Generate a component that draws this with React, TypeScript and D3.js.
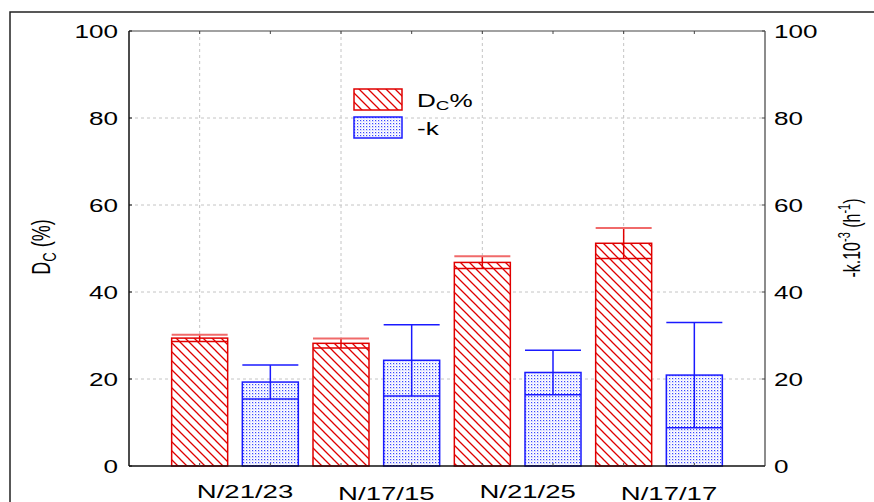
import React from "react";
import * as d3 from "d3";

// Four samples, each with a D_C % bar (red, hatched) and a -k bar (blue, dotted)
const samples = ["N/21/23", "N/17/15", "N/21/25", "N/17/17"];
const dcValues = [29.4, 28.2, 46.8, 51.2];
const dcErrors = [0.8, 1.1, 1.4, 3.5];
const kValues = [19.3, 24.3, 21.5, 20.9];
const kErrors = [3.9, 8.2, 5.1, 12.1];
const yTicks = [0, 20, 40, 60, 80, 100];

const W = 874;
const H = 502;
const plot = { left: 129, right: 765, top: 31, bottom: 466 };
const STRETCH = 1.45;
const FONT = "'Liberation Sans', Arial, Helvetica, sans-serif";
const RED = "#e00000";
const RED_LIGHT = "#f06a6a";
const BLUE = "#1a1aff";
const BAR_W = 56;

type Bar = { key: string; value: number; err: number; kind: "dc" | "k" };

const bars: Bar[] = samples.flatMap((s, i) => [
  { key: s + "-dc", value: dcValues[i], err: dcErrors[i], kind: "dc" as const },
  { key: s + "-k", value: kValues[i], err: kErrors[i], kind: "k" as const },
]);

const x = d3
  .scalePoint<string>()
  .domain(bars.map((b) => b.key))
  .range([plot.left, plot.right])
  .padding(1);

const y = d3.scaleLinear().domain([0, 100]).range([plot.bottom, plot.top]);

function SText(props: {
  x: number;
  y: number;
  size: number;
  anchor?: "start" | "middle" | "end";
  rotate?: boolean;
  children: React.ReactNode;
}) {
  const { x: tx, y: ty, size, anchor = "start", rotate, children } = props;
  const t = `translate(${tx},${ty}) scale(${STRETCH},1)${rotate ? " rotate(-90)" : ""}`;
  return (
    <text
      transform={t}
      fontFamily={FONT}
      fontSize={size}
      textAnchor={anchor}
      fill="#000"
    >
      {children}
    </text>
  );
}

export default function App() {
  const gridX = bars.filter((b) => b.kind === "dc").map((b) => x(b.key)!);
  const gridY = yTicks.filter((t) => t > 0 && t < 100);

  return (
    <svg
      width={W}
      height={H}
      viewBox={`0 0 ${W} ${H}`}
      style={{ position: "absolute", left: 0, top: 0, background: "#fff" }}
    >
      <defs>
        <pattern id="hatch" patternUnits="userSpaceOnUse" width={9} height={9}>
          <rect width={9} height={9} fill="#fff" />
          <path
            d="M-1,-1 L10,10 M-1,8 L1,10 M8,-1 L10,1"
            stroke={RED}
            strokeWidth={1.3}
          />
        </pattern>
        <pattern id="dots" patternUnits="userSpaceOnUse" width={3} height={3}>
          <rect width={3} height={3} fill="#fff" />
          <rect width={1.2} height={1.2} fill="#3a46ff" />
          <rect x={1.5} y={1.5} width={0.8} height={0.8} fill="#8c94ff" />
        </pattern>
      </defs>

      {/* outer frame */}
      <rect x={10} y={12} width={900} height={600} fill="none" stroke="#222" strokeWidth={1.5} />

      {/* grid */}
      {gridY.map((t) => (
        <line
          key={"gy" + t}
          x1={plot.left}
          x2={plot.right}
          y1={y(t)}
          y2={y(t)}
          stroke="#c4c4c4"
          strokeDasharray="3,3"
        />
      ))}
      {gridX.map((gx, i) => (
        <line
          key={"gx" + i}
          x1={gx}
          x2={gx}
          y1={plot.top}
          y2={plot.bottom}
          stroke="#c4c4c4"
          strokeDasharray="3,3"
        />
      ))}

      {/* bars */}
      {bars.map((b) => {
        const cx = x(b.key)!;
        const x0 = cx - BAR_W / 2;
        const isDc = b.kind === "dc";
        const stroke = isDc ? RED : BLUE;
        const top = y(b.value);
        const hi = y(b.value + b.err);
        const lo = y(b.value - b.err);
        return (
          <g key={b.key}>
            <rect
              x={x0}
              y={top}
              width={BAR_W}
              height={y(0) - top}
              fill={isDc ? "url(#hatch)" : "url(#dots)"}
              stroke={stroke}
              strokeWidth={1.5}
            />
            <line x1={x0} x2={x0 + BAR_W} y1={lo} y2={lo} stroke={stroke} strokeWidth={1.5} />
            <line x1={cx} x2={cx} y1={lo} y2={hi} stroke={stroke} strokeWidth={1.5} />
            <line
              x1={x0}
              x2={x0 + BAR_W}
              y1={hi}
              y2={hi}
              stroke={isDc ? RED_LIGHT : BLUE}
              strokeWidth={isDc ? 2 : 1.5}
            />
          </g>
        );
      })}

      {/* plot frame */}
      <line x1={plot.left} x2={plot.right} y1={plot.top} y2={plot.top} stroke="#444" strokeWidth={1.2} />
      <line x1={plot.right} x2={plot.right} y1={plot.top} y2={plot.bottom} stroke="#666" strokeWidth={1.5} />
      <line x1={plot.left} x2={plot.left} y1={plot.top} y2={plot.bottom} stroke="#111" strokeWidth={1.5} />
      <line x1={plot.left} x2={plot.right} y1={plot.bottom} y2={plot.bottom} stroke="#111" strokeWidth={1.5} />

      {/* ticks */}
      {yTicks.map((t) => (
        <g key={"t" + t}>
          <line x1={plot.left} x2={plot.left + 3} y1={y(t)} y2={y(t)} stroke="#111" />
          <line x1={plot.right - 3} x2={plot.right} y1={y(t)} y2={y(t)} stroke="#444" />
          <SText x={118} y={y(t) + 6.5} size={18} anchor="end">
            {t}
          </SText>
          <SText x={774} y={y(t) + 6.5} size={18}>
            {t}
          </SText>
        </g>
      ))}
      {bars.map((b) => (
        <g key={"xt" + b.key}>
          <line x1={x(b.key)!} x2={x(b.key)!} y1={plot.top} y2={plot.top + 3} stroke="#444" />
          <line x1={x(b.key)!} x2={x(b.key)!} y1={plot.bottom} y2={plot.bottom - 3} stroke="#444" />
        </g>
      ))}

      {/* category labels */}
      {samples.map((s, i) => {
        const cx = (x(s + "-dc")! + x(s + "-k")!) / 2 + 10;
        return (
          <SText key={s} x={cx} y={i % 2 === 0 ? 497.5 : 500} size={19} anchor="middle">
            {s}
          </SText>
        );
      })}

      {/* axis titles */}
      <SText x={50} y={247} size={18} anchor="middle" rotate>
        D<tspan fontSize={13} dy={4}>C</tspan>
        <tspan dy={-4}> (%)</tspan>
      </SText>
      <SText x={860} y={238} size={16} anchor="middle" rotate>
        -k.10<tspan fontSize={11} dy={-7}>-3</tspan>
        <tspan dy={7}> (h</tspan>
        <tspan fontSize={11} dy={-7}>-1</tspan>
        <tspan dy={7}>)</tspan>
      </SText>

      {/* legend */}
      <rect x={354} y={89} width={48} height={21} fill="url(#hatch)" stroke={RED} strokeWidth={1.5} />
      <rect x={354} y={117} width={48} height={21} fill="url(#dots)" stroke={BLUE} strokeWidth={1.5} />
      <SText x={417} y={107} size={18}>
        D<tspan fontSize={13} dy={3}>C</tspan>
        <tspan dy={-3}>%</tspan>
      </SText>
      <SText x={417} y={135} size={18}>
        -k
      </SText>
    </svg>
  );
}
